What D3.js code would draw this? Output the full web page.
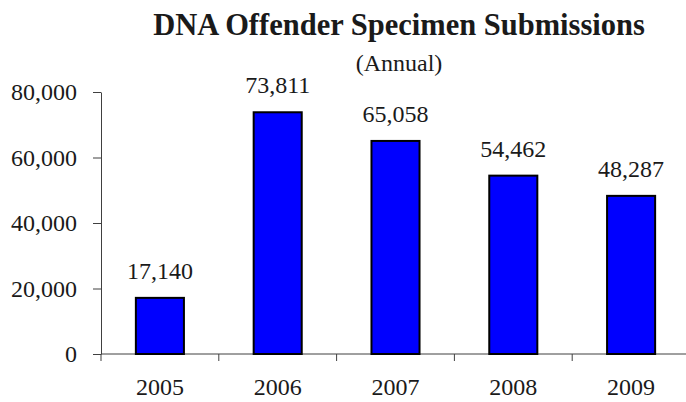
<!DOCTYPE html>
<html>
<head>
<meta charset="utf-8">
<script src="https://cdn.jsdelivr.net/npm/d3@7"></script>
<style>
  body { margin: 0; background: #fff; }
  svg text { font-family: "Liberation Serif", "Times New Roman", serif; fill: #1a1a1a; }
  .axis path, .axis line { stroke: #404040; stroke-width: 1; }
</style>
</head>
<body>
<div class="chart"></div>
<script>
// Data
const years = ["2005", "2006", "2007", "2008", "2009"];
const submissions = [17140, 73811, 65058, 54462, 48287];
const yTicks = [0, 20000, 40000, 60000, 80000];

const width = 686;
const height = 402;
const plot = {left: 101, right: 690, top: 92, bottom: 354};

const svg = d3.select(".chart").append("svg")
  .attr("width", width)
  .attr("height", height);

// Scales
const padding = 0.592;
const xScale = d3.scaleBand()
  .domain(years)
  .range([plot.left, plot.right])
  .paddingInner(padding)
  .paddingOuter(padding / 2);
const yScale = d3.scaleLinear()
  .domain([0, 80000])
  .range([plot.bottom, plot.top]);

// Title
svg.append("text")
  .attr("x", 399).attr("y", 35)
  .attr("text-anchor", "middle")
  .style("font-size", "30.5px")
  .style("font-weight", "bold")
  .text("DNA Offender Specimen Submissions");
svg.append("text")
  .attr("x", 399).attr("y", 71)
  .attr("text-anchor", "middle")
  .style("font-size", "24px")
  .text("(Annual)");

// Y axis
const yAxis = d3.axisLeft(yScale)
  .tickValues(yTicks)
  .tickFormat(d3.format(","))
  .tickSize(8)
  .tickSizeOuter(0)
  .tickPadding(16);
const gY = svg.append("g")
  .attr("class", "axis")
  .attr("transform", `translate(${plot.left},0)`)
  .call(yAxis);
gY.selectAll("text").style("font-size", "24px").attr("dy", "0.33em");

// X axis: line plus ticks on category boundaries
const step = xScale.step();
const gX = svg.append("g").attr("class", "axis");
gX.append("line")
  .attr("x1", plot.left).attr("x2", plot.right)
  .attr("y1", plot.bottom).attr("y2", plot.bottom);
const boundaries = years.map(d => xScale(d) + xScale.bandwidth() / 2 - step / 2);
boundaries.push(boundaries[boundaries.length - 1] + step);
gX.selectAll(".tick").data(boundaries).enter()
  .append("line")
  .attr("x1", d => d).attr("x2", d => d)
  .attr("y1", plot.bottom).attr("y2", plot.bottom + 7);
gX.selectAll(".year").data(years).enter()
  .append("text")
  .attr("class", "year")
  .attr("x", d => xScale(d) + xScale.bandwidth() / 2)
  .attr("y", 395)
  .attr("text-anchor", "middle")
  .style("font-size", "24px")
  .text(d => d);

// Bars
const data = years.map((y, i) => ({year: y, value: submissions[i]}));
svg.selectAll(".bar").data(data).enter()
  .append("rect")
  .attr("class", "bar")
  .attr("x", d => xScale(d.year))
  .attr("y", d => yScale(d.value))
  .attr("width", xScale.bandwidth())
  .attr("height", d => plot.bottom - yScale(d.value))
  .attr("fill", "#0000ff")
  .attr("stroke", "#000")
  .attr("stroke-width", 2);

// Value labels
svg.selectAll(".val").data(data).enter()
  .append("text")
  .attr("class", "val")
  .attr("x", d => xScale(d.year) + xScale.bandwidth() / 2)
  .attr("y", d => yScale(d.value) - 19)
  .attr("text-anchor", "middle")
  .style("font-size", "24px")
  .text(d => d3.format(",")(d.value));
</script>
</body>
</html>
